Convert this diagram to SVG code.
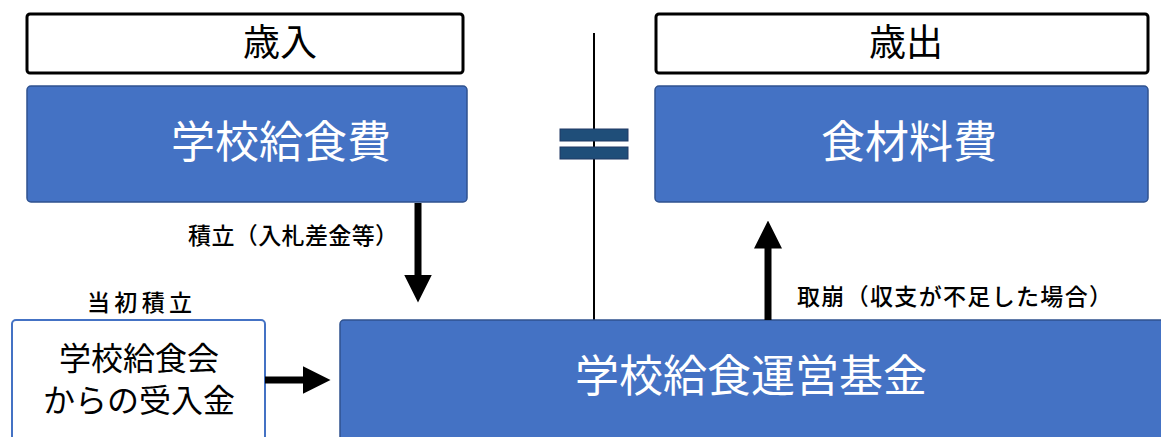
<svg xmlns="http://www.w3.org/2000/svg" width="1161" height="437" viewBox="0 0 1161 437">
<style>
.hdr{fill:#fff;stroke:#000;stroke-width:3}
.blue{fill:#4472C4;stroke:#2F528F;stroke-width:1.5}
.t{font-family:"Noto Sans CJK JP","Noto Sans CJK SC",sans-serif;text-anchor:middle;dominant-baseline:central}
.wt{fill:#fff;font-size:44px}
.bk{fill:#000}
.lbl{font-family:"Noto Sans CJK JP",sans-serif;font-size:23px;font-weight:500;fill:#000;dominant-baseline:central}
.conn{stroke:#000;stroke-width:7;fill:none}
</style>
<defs>
<marker id="ah" markerWidth="4" markerHeight="4" refX="0.5" refY="2" orient="auto" markerUnits="strokeWidth">
<path d="M0,0 L4,2 L0,4 Z" fill="#000"/>
</marker>
</defs>
<g id="divider">
<line x1="594" y1="33" x2="594" y2="320" stroke="#000" stroke-width="2"/>
</g>
<g id="equals">
<rect x="560" y="129" width="68" height="12" fill="#1F4E79" stroke="#203864" stroke-width="1"/>
<rect x="560" y="147" width="68" height="12" fill="#1F4E79" stroke="#203864" stroke-width="1"/>
</g>
<g id="revenue-header">
<rect class="hdr" x="27" y="14" width="436" height="59" rx="3"/>
<text class="t bk" x="280" y="40" font-size="37">歳入</text>
</g>
<g id="expenditure-header">
<rect class="hdr" x="656" y="14" width="492" height="59" rx="3"/>
<text class="t bk" x="906" y="40" font-size="37">歳出</text>
</g>
<g id="school-lunch-fee">
<rect class="blue" x="27" y="86" width="440" height="116" rx="4"/>
<text class="t wt" x="281" y="139">学校給食費</text>
</g>
<g id="food-cost">
<rect class="blue" x="655" y="86" width="493" height="116" rx="4"/>
<text class="t wt" x="909" y="139">食材料費</text>
</g>
<g id="association">
<rect x="12" y="320" width="253" height="125" rx="4" fill="#fff" stroke="#4472C4" stroke-width="2"/>
<text class="t bk" x="139" y="356" font-size="32">学校給食会</text>
<text class="t bk" x="139" y="398" font-size="32">からの受入金</text>
</g>
<g id="fund">
<rect class="blue" x="340" y="320" width="830" height="130" rx="4"/>
<text class="t wt" x="751" y="373">学校給食運営基金</text>
</g>
<g id="connectors">
<line class="conn" x1="418" y1="203" x2="418" y2="278" marker-end="url(#ah)"/>
<line class="conn" x1="768" y1="320" x2="768" y2="245" marker-end="url(#ah)"/>
<line class="conn" x1="265" y1="380" x2="306" y2="380" marker-end="url(#ah)"/>
</g>
<g id="labels">
<text class="lbl" x="188" y="234" textLength="210">積立（入札差金等）</text>
<text class="lbl" x="87" y="301" font-size="25" textLength="105">当初積立</text>
<text class="lbl" x="797" y="295" textLength="315">取崩（収支が不足した場合）</text>
</g>
</svg>
